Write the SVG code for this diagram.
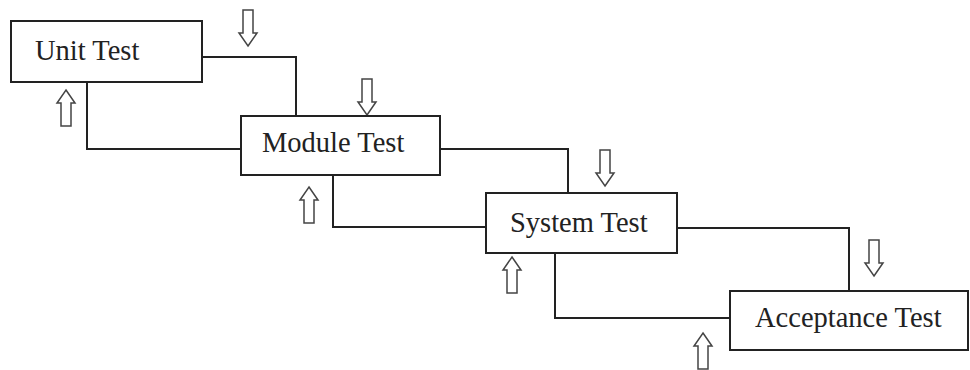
<svg xmlns="http://www.w3.org/2000/svg" width="970" height="370" viewBox="0 0 970 370">
<defs>
<style>
.box{fill:#fff;stroke:#222;stroke-width:2}
.lbl{font-family:"Liberation Serif","Times New Roman",serif;font-size:28.5px;fill:#222}
.conn{fill:none;stroke:#222;stroke-width:2}
.arr{fill:#fff;stroke:#444;stroke-width:1.5;stroke-linejoin:miter}
</style>
<path id="up" d="M0,0 L9,13 L5,13 L5,36 L-5,36 L-5,13 L-9,13 Z"/>
<path id="down" d="M0,36 L9,23 L5,23 L5,0 L-5,0 L-5,23 L-9,23 Z"/>
</defs>
<rect width="970" height="370" fill="#fff"/>
<g id="connectors">
<path class="conn" d="M202,57 H296 V116"/>
<path class="conn" d="M87,82 V149 H241"/>
<path class="conn" d="M440,149 H568 V193"/>
<path class="conn" d="M333,175 V227 H486"/>
<path class="conn" d="M677,228 H849 V291"/>
<path class="conn" d="M555,253 V318 H730"/>
</g>
<g id="arrows">
<use href="#down" class="arr" x="248" y="10"/>
<use href="#up" class="arr" x="66" y="90"/>
<use href="#down" class="arr" x="367" y="79"/>
<use href="#up" class="arr" x="309" y="187"/>
<use href="#down" class="arr" x="605" y="150"/>
<use href="#up" class="arr" x="512" y="257"/>
<use href="#down" class="arr" x="874" y="240"/>
<use href="#up" class="arr" x="703" y="333"/>
</g>
<g id="unit-test">
<rect class="box" x="11" y="21" width="191" height="61"/>
<text class="lbl" x="35" y="60">Unit Test</text>
</g>
<g id="module-test">
<rect class="box" x="241" y="116" width="199" height="59"/>
<text class="lbl" x="262" y="152">Module Test</text>
</g>
<g id="system-test">
<rect class="box" x="486" y="193" width="191" height="60"/>
<text class="lbl" x="510" y="232">System Test</text>
</g>
<g id="acceptance-test">
<rect class="box" x="730" y="291" width="238" height="59"/>
<text class="lbl" x="755" y="327">Acceptance Test</text>
</g>
</svg>
